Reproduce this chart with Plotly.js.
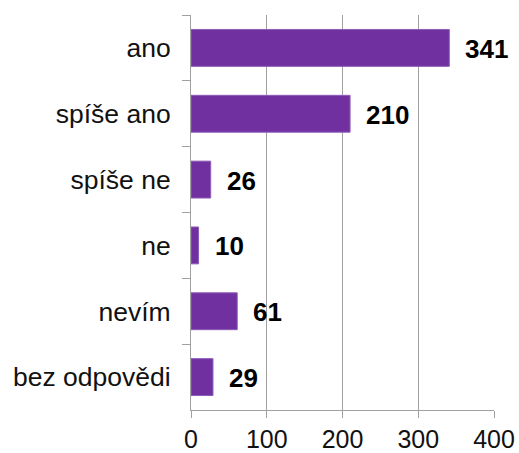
<!DOCTYPE html>
<html>
<head>
<meta charset="utf-8">
<script src="https://cdn.plot.ly/plotly-3.0.1.min.js"></script>
<style>
html,body{margin:0;padding:0;background:#fff;}
#chart{width:519px;height:453px;}
</style>
</head>
<body>
<div id="chart"></div>
<script>
var categories = ["ano", "spíše ano", "spíše ne", "ne", "nevím", "bez odpovědi"];
var counts = [341, 210, 26, 10, 61, 29];
var xTicks = [0, 100, 200, 300, 400];

var trace = {
  type: "bar",
  orientation: "h",
  y: categories,
  x: counts,
  marker: {color: "#7030A0", line: {color: "#8E5CB8", width: 1}},
  hoverinfo: "none"
};

var annotations = categories.map(function (c, i) {
  return {
    x: counts[i], y: c, xref: "x", yref: "y",
    text: "<b>" + String(counts[i]) + "</b>",
    showarrow: false, xanchor: "left", yanchor: "middle",
    xshift: 14, yshift: -1,
    font: {family: "Liberation Sans, Arial, sans-serif", size: 26, color: "#000"}
  };
});

var layout = {
  width: 519, height: 453,
  margin: {l: 191, r: 25, t: 15, b: 43},
  paper_bgcolor: "#fff", plot_bgcolor: "#fff",
  showlegend: false,
  bargap: 0.44,
  font: {family: "Liberation Sans, Arial, sans-serif", size: 25, color: "#000"},
  xaxis: {
    range: [0, 400], tickvals: xTicks, ticktext: xTicks.map(String),
    showgrid: true, gridcolor: "#A0A0A0", gridwidth: 1,
    zeroline: false,
    showline: true, linecolor: "#A0A0A0", linewidth: 1,
    ticks: "outside", ticklen: 7, tickcolor: "#A0A0A0",
    tickfont: {size: 25, color: "#111"},
    fixedrange: true
  },
  yaxis: {
    autorange: "reversed", type: "category",
    showgrid: false, zeroline: false,
    showline: true, linecolor: "#A0A0A0", linewidth: 1,
    ticks: "outside", ticklen: 8, tickcolor: "#A0A0A0", tickson: "boundaries",
    ticklabelstandoff: 14,
    tickfont: {size: 26.5, color: "#111"},
    fixedrange: true
  },
  annotations: annotations
};

Plotly.newPlot("chart", [trace], layout, {displayModeBar: false, staticPlot: true});
</script>
</body>
</html>
